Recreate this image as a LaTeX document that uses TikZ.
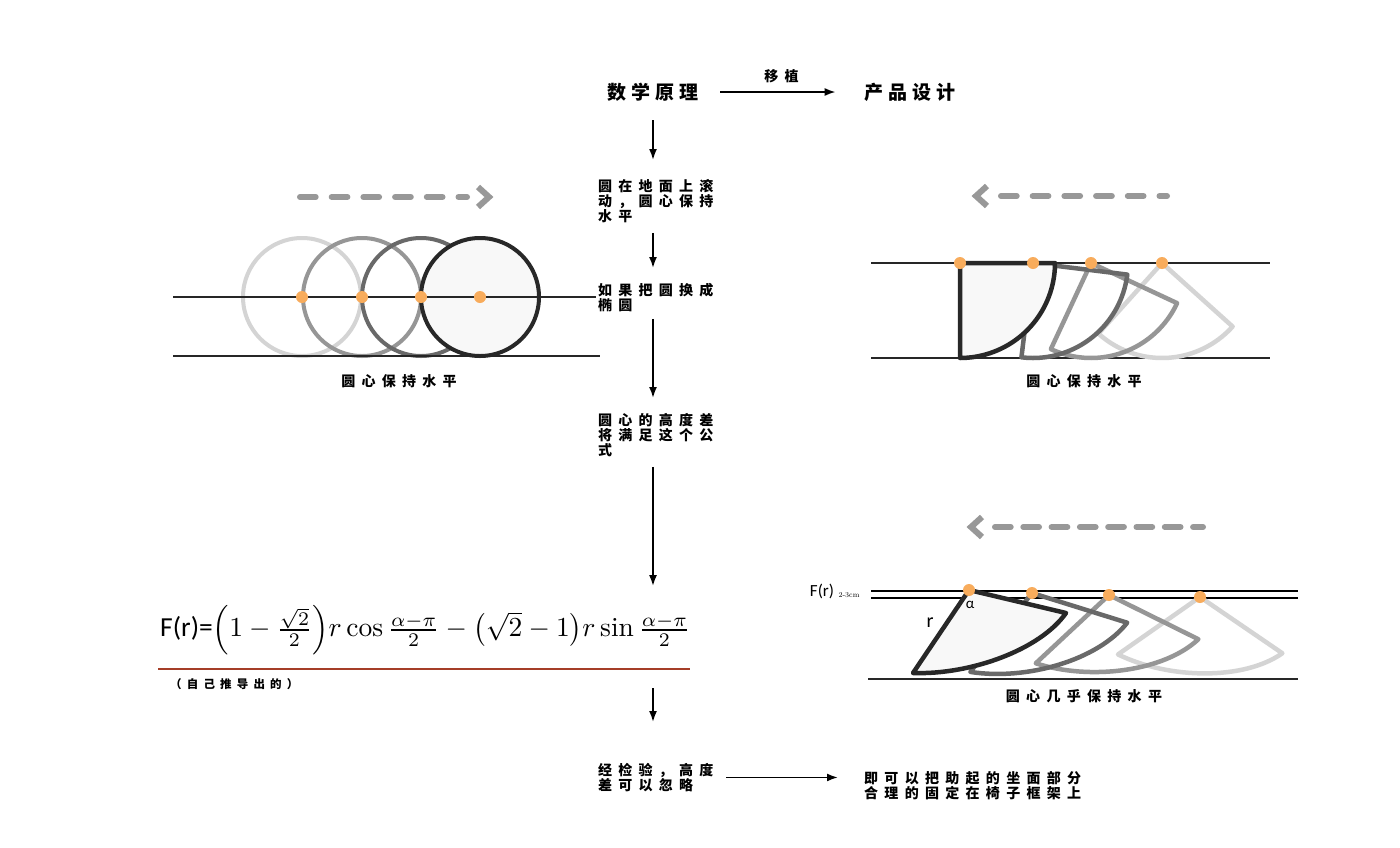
\documentclass[tikz,border=0pt]{standalone}
\usepackage{fontspec}
\usepackage{amsmath,graphicx}
\newfontfamily\cjk[LetterSpace=45]{Noto Sans CJK SC}
\newfontfamily\cjkwide[LetterSpace=25]{Noto Sans CJK SC}
\newfontfamily\calib{Carlito}
\usetikzlibrary{arrows.meta,positioning,calc}
\definecolor{dotorange}{RGB}{248,172,92}
\definecolor{shadeA}{RGB}{40,40,40}
\definecolor{shadeB}{RGB}{105,105,105}
\definecolor{shadeC}{RGB}{150,150,150}
\definecolor{shadeD}{RGB}{212,212,212}
\definecolor{fillgray}{RGB}{248,248,248}
\definecolor{rulered}{RGB}{165,62,40}
\definecolor{arrowgray}{RGB}{152,152,152}
\tikzset{
  title/.style={font=\cjkwide\bfseries\fontsize{19}{22}\selectfont,inner sep=0pt},
  steptext/.style={font=\cjk\bfseries\fontsize{14}{15}\selectfont,
    text width=110pt,align=left,inner sep=0pt,anchor=north},
  caption/.style={font=\cjk\bfseries\fontsize{14}{15}\selectfont,inner sep=0pt},
  flow/.style={-{Latex[length=11pt,width=8pt]},line width=1.8pt},
  ground/.style={line width=1.4pt,draw=black!85},
  wheel/.style={line width=4pt},
  blade/.style={line width=4.5pt,line join=round},
  pivot/.style={circle,fill=dotorange,inner sep=0pt,minimum size=12pt},
  shiftarrow/.style={draw=arrowgray,line width=6pt,line cap=round,dash pattern=on 15.7pt off 16pt},
  chevron/.style={draw=arrowgray,line width=6pt,line join=miter}
}
\begin{document}
\begin{tikzpicture}[x=1pt,y=-1pt]
  \fill[white] (0,0) rectangle (1400,847);
  \useasboundingbox (0,0) rectangle (1400,847);

  % principle column
  \node[title] (math) at (653,92) {数学原理};
  \node[title] (product) at (910,92) {产品设计};
  \draw[flow,shorten <=22pt,shorten >=29pt] (math) -- node[above=5pt,font=\cjk\bfseries\fontsize{14}{15}\selectfont] (transplant) {移植} (product);

  \node[steptext] (rolling) at (653,179) {圆在地面上滚\\动，圆心保持\\水平};
  \node[steptext] (ellipse) at (653,283) {如果把圆换成\\椭圆};
  \node[steptext] (height) at (653,413) {圆心的高度差\\将满足这个公\\式};
  \node[anchor=west,inner sep=0pt] (formula) at (160,630)
    {\resizebox{530pt}{!}{{\calib F(r)=}$\Bigl(1-\frac{\sqrt{2}}{2}\Bigr)r\cos\frac{\alpha-\pi}{2}-\bigl(\sqrt{2}-1\bigr)r\sin\frac{\alpha-\pi}{2}$}};
  \draw[line width=1.6pt,rulered] (158,669) -- (690,669);
  \node[anchor=west,inner sep=0pt,font=\cjk\bfseries\fontsize{11.5}{12}\selectfont] (derived) at (170,684) {（自己推导出的）};
  \node[steptext] (check) at (653,763) {经检验，高度\\差可以忽略};
  \node[steptext,anchor=north west,text width=230pt] (chair) at (864,771) {即可以把助起的坐面部分\\合理的固定在椅子框架上};

  \draw[flow,shorten <=19pt,shorten >=19pt] (math.south) -- (rolling.north);
  \draw[flow,shorten <=10pt,shorten >=15pt] (rolling.south) -- (ellipse.north);
  \draw[flow,shorten <=7pt,shorten >=15pt] (ellipse.south) -- (height.north);
  \draw[flow,shorten <=10pt,shorten >=19pt] (height.south) -- (height.south |- formula.north);
  \draw[flow,shorten <=4pt,shorten >=41pt] (derived -| check.north) -- (check.north);
  \draw[flow,shorten <=18pt,shorten >=26pt] (check.east) -- (check.east -| chair.west);

  % rolling circles
  \draw[shiftarrow] (300,197) -- (467,197);
  \draw[chevron] (478,187) -- (489,197) -- (478,207);
  \draw[wheel,draw=shadeD] (302,297) circle[radius=59];
  \draw[wheel,draw=shadeC] (362,297) circle[radius=59];
  \draw[wheel,draw=shadeB] (421,297) circle[radius=59];
  \draw[wheel,draw=shadeA,fill=fillgray] (480,297) circle[radius=59];
  \draw[ground] (173,297) -- (596,297);
  \draw[ground] (173,356) -- (600,356);
  \node[pivot] (hubA) at (302,297) {};
  \node[pivot] (hubB) at (362,297) {};
  \node[pivot] (hubC) at (421,297) {};
  \node[pivot] (hubD) at (480,297) {};
  \node[caption] (circlecap) at (399,381) {圆心保持水平};

  % quarter sectors
  \draw[shiftarrow] (1001,196) -- (1167,196);
  \draw[chevron] (987,186) -- (976,196) -- (987,206);
  \draw[ground] (871,263) -- (1270,263);
  \draw[ground] (871,358) -- (1270,358);
  \foreach \ax/\turn/\shade in {1162/42/shadeD,1091/25/shadeC,1033/7/shadeB}
    \draw[blade,draw=\shade,shift={(\ax,263)},rotate=-\turn]
      (0,0) -- plot[domain=0:90,samples=40] ({95*cos(\x)},{95*sin(\x)}) -- cycle;
  \draw[blade,draw=shadeA,fill=fillgray,shift={(960,263)}]
    (0,0) -- plot[domain=0:90,samples=40] ({95*cos(\x)},{95*sin(\x)}) -- cycle;
  \node[pivot] (quarterA) at (960,263) {};
  \node[pivot] (quarterB) at (1033,263) {};
  \node[pivot] (quarterC) at (1091,263) {};
  \node[pivot] (quarterD) at (1162,263) {};
  \node[caption] (quartercap) at (1084,381) {圆心保持水平};

  % ellipse sectors
  \draw[shiftarrow,dash pattern=on 15.7pt off 12.6pt] (995,527) -- (1203,527);
  \draw[chevron] (982,517) -- (971,527) -- (982,537);
  \draw[line width=1.2pt] (871,591) -- (1298,591);
  \draw[line width=1.2pt] (871,598) -- (1298,598);
  \draw[line width=2.2pt,shadeA] (868,679) -- (1298,679);
  \foreach \ax/\ay/\turn/\shade in {1200/597/21/shadeD,1109/595/13/shadeC,1032/593/4/shadeB}
    \draw[blade,draw=\shade,shift={(\ax,\ay)},rotate=-\turn]
      (0,0) -- (97,23) .. controls (71,62) and (1,88) .. (-56,83) -- cycle;
  \draw[blade,draw=shadeA,fill=fillgray,shift={(969,590)}]
    (0,0) -- (97,23) .. controls (71,60) and (1,85) .. (-56,83) -- cycle;
  \node[pivot] (ovalA) at (969,590) {};
  \node[pivot] (ovalB) at (1032,593) {};
  \node[pivot] (ovalC) at (1109,595) {};
  \node[pivot] (ovalD) at (1200,597) {};
  \node[inner sep=0pt,font=\calib\fontsize{20}{20}\selectfont] (radius) at (930,623) {r};
  \node[inner sep=0pt,font=\calib\fontsize{15}{15}\selectfont] (angle) at (970,605) {α};
  \node[inner sep=0pt,font=\calib\fontsize{17}{17}\selectfont] (gap) at (822,591) {F(r)};
  \node[inner sep=0pt,font=\fontsize{7.5}{8}\selectfont] (gapsize) at (849,595) {2-3cm};
  \node[caption] (ovalcap) at (1084,696) {圆心几乎保持水平};
\end{tikzpicture}
\end{document}
